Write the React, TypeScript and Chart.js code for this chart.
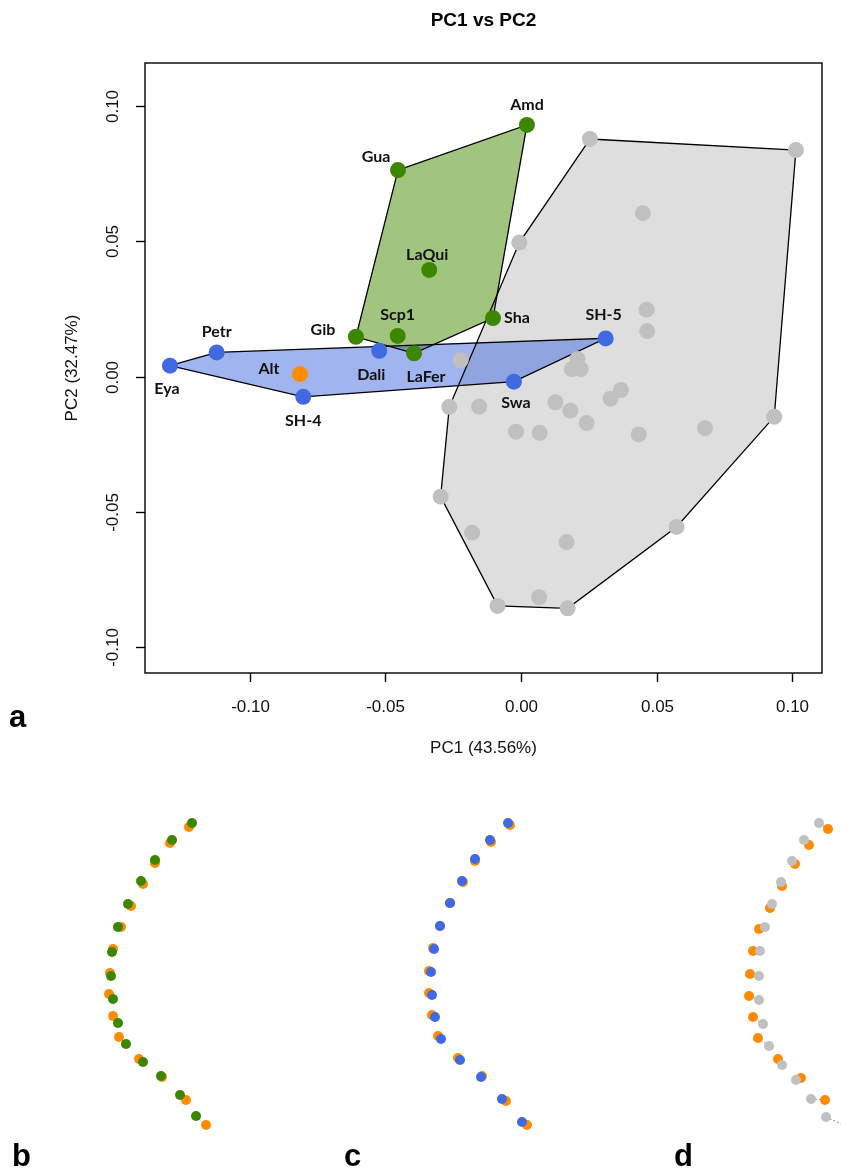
import React, { useEffect, useRef } from "react";
import { Chart, registerables } from "chart.js";
Chart.register(...registerables);

const FONT_AXIS = '"Liberation Sans", Arial, sans-serif';
const FONT_LABEL = 'Lato, "Open Sans", sans-serif';

// ---------- Panel a: PCA scores ----------
const grayX = [0.0254, 0.1013, 0.0449, -0.0006, 0.0463, 0.0465, -0.0222, 0.0208, 0.0187, 0.022, 0.0368, 0.033, -0.0264, -0.0154, 0.0127, 0.0182, 0.0933, 0.0242, -0.0018, 0.0069, 0.0434, 0.0678, -0.0296, -0.018, 0.0168, 0.0573, -0.0086, 0.0067, 0.0172];
const grayY = [0.0878, 0.0837, 0.0604, 0.0495, 0.0247, 0.0168, 0.006, 0.0065, 0.0027, 0.0027, -0.005, -0.0082, -0.0112, -0.0111, -0.0095, -0.0126, -0.0149, -0.0172, -0.0204, -0.0208, -0.0214, -0.0191, -0.0444, -0.0577, -0.0612, -0.0556, -0.0848, -0.0816, -0.0857];
const grayHull = [0, 1, 16, 25, 28, 26, 22, 12, 3];

const greenNames = ["Amd", "Gua", "LaQui", "Sha", "Gib", "Scp1", "LaFer"];
const greenX = [0.0022, -0.0453, -0.0338, -0.0103, -0.0608, -0.0454, -0.0394];
const greenY = [0.093, 0.0763, 0.0394, 0.0216, 0.0147, 0.015, 0.0086];
const greenHull = [1, 0, 3, 6, 4];
const greenLabelOffsets = [[0, -20], [-22, -13], [-2, -15], [24, 0], [-33, -7], [0, -21], [12, 24]];

const blueNames = ["Eya", "Petr", "SH-4", "Dali", "Swa", "SH-5"];
const blueX = [-0.1293, -0.1121, -0.0802, -0.0522, -0.0026, 0.0312];
const blueY = [0.004, 0.0089, -0.0075, 0.0095, -0.0019, 0.0141];
const blueHull = [0, 1, 5, 4, 2];
const blueLabelOffsets = [[-3, 23], [0, -21], [0, 24], [-8, 24], [2, 21], [-2, -24]];

const orangeNames = ["Alt"];
const orangeX = [-0.0814];
const orangeY = [0.0009];
const orangeLabelOffsets = [[-31, -5]];

const xTicks = [-0.1, -0.05, 0, 0.05, 0.1];
const xTickLabels = ["-0.10", "-0.05", "0.00", "0.05", "0.10"];
const yTicks = [-0.1, -0.05, 0, 0.05, 0.1];
const yTickLabels = ["-0.10", "-0.05", "0.00", "0.05", "0.10"];
const xRange = [-0.1385, 0.1109];
const yRange = [-0.1096, 0.1159];

const TITLE = "PC1 vs PC2";
const X_TITLE = "PC1 (43.56%)";
const Y_TITLE = "PC2 (32.47%)";

// ---------- Panels b, c, d: landmark configurations ----------
const bGreenX = [0.052, 0.032, 0.015, 0.001, -0.012, -0.022, -0.028, -0.029, -0.027, -0.022, -0.014, 0.003, 0.021, 0.04, 0.056];
const bGreenY = [0.151, 0.134, 0.114, 0.093, 0.07, 0.047, 0.022, -0.002, -0.025, -0.049, -0.07, -0.088, -0.102, -0.121, -0.142];
const bOrangeX = [0.049, 0.03, 0.015, 0.003, -0.009, -0.019, -0.027, -0.03, -0.031, -0.027, -0.021, -0.001, 0.022, 0.046, 0.066];
const bOrangeY = [0.147, 0.131, 0.111, 0.09, 0.068, 0.047, 0.025, 0.001, -0.02, -0.042, -0.063, -0.085, -0.103, -0.126, -0.151];

const cBlueX = [0.088, 0.07, 0.055, 0.042, 0.03, 0.02, 0.014, 0.011, 0.012, 0.015, 0.021, 0.04, 0.061, 0.082, 0.102];
const cBlueY = [0.151, 0.134, 0.115, 0.093, 0.071, 0.048, 0.025, 0.002, -0.021, -0.043, -0.065, -0.086, -0.103, -0.125, -0.148];
const cOrangeX = [0.09, 0.071, 0.055, 0.043, 0.03, 0.02, 0.013, 0.009, 0.009, 0.012, 0.018, 0.038, 0.062, 0.086, 0.107];
const cOrangeY = [0.149, 0.132, 0.113, 0.092, 0.071, 0.048, 0.026, 0.003, -0.019, -0.041, -0.062, -0.084, -0.102, -0.127, -0.151];

const dGrayX = [0.118, 0.103, 0.091, 0.08, 0.071, 0.064, 0.059, 0.058, 0.058, 0.062, 0.068, 0.081, 0.095, 0.11, 0.125];
const dGrayY = [0.151, 0.134, 0.113, 0.092, 0.07, 0.047, 0.023, -0.002, -0.026, -0.05, -0.072, -0.091, -0.106, -0.125, -0.143];
const dOrangeX = [0.127, 0.108, 0.094, 0.081, 0.069, 0.058, 0.052, 0.049, 0.048, 0.052, 0.057, 0.077, 0.1, 0.124, 0.147];
const dOrangeY = [0.145, 0.129, 0.11, 0.088, 0.066, 0.045, 0.023, 0.0, -0.022, -0.043, -0.064, -0.085, -0.104, -0.126, -0.153];

const panelXRange = [-0.14, 0.14];
const panelYRange = [-0.194, 0.194];

// ---------- colours ----------
const C_GRAY_PT = "#C0C0C0";
const C_GRAY_FILL = "#DEDEDE";
const C_GREEN_PT = "#3D8700";
const C_GREEN_FILL = "#A1C57F";
const C_BLUE_PT = "#4169E1";
const C_BLUE_FILL = "rgba(65,105,225,0.5)";
const C_ORANGE_PT = "#FF8C00";

const pts = (xs: number[], ys: number[]) => xs.map((x, i) => ({ x, y: ys[i] }));
const hullPts = (xs: number[], ys: number[], idx: number[]) =>
  [...idx, idx[0]].map((i) => ({ x: xs[i], y: ys[i] }));

function hullFill(data: any, color: string, order: number) {
  return {
    data, fill: "shape", backgroundColor: color, borderWidth: 0, borderColor: "rgba(0,0,0,0)",
    pointRadius: 0, showLine: true, order, tension: 0,
  };
}
function hullLine(data: any, order: number) {
  return {
    data, fill: false, borderColor: "#000", borderWidth: 1.3, pointRadius: 0, showLine: true, order, tension: 0,
  };
}
function pointSet(data: any, color: string, radius: number, order: number) {
  return {
    data, showLine: false, pointRadius: radius, pointHoverRadius: radius,
    pointBackgroundColor: color, pointBorderWidth: 0, pointBorderColor: color, order,
  };
}

function mainConfig(): any {
  const labelPlugin = {
    id: "pointLabels",
    afterDatasetsDraw(chart: any) {
      const { ctx, scales } = chart;
      ctx.save();
      ctx.font = `bold 16px ${FONT_LABEL}`;
      ctx.fillStyle = "#111";
      ctx.textAlign = "center";
      ctx.textBaseline = "middle";
      const put = (names: string[], xs: number[], ys: number[], offs: number[][]) => {
        names.forEach((n, i) => {
          const px = scales.x.getPixelForValue(xs[i]);
          const py = scales.y.getPixelForValue(ys[i]);
          ctx.fillText(n, px + offs[i][0], py + offs[i][1]);
        });
      };
      put(greenNames, greenX, greenY, greenLabelOffsets);
      put(blueNames, blueX, blueY, blueLabelOffsets);
      put(orangeNames, orangeX, orangeY, orangeLabelOffsets);
      ctx.restore();
    },
  };
  const decor = {
    id: "decor",
    afterDraw(chart: any) {
      const { ctx, chartArea: a, scales } = chart;
      ctx.save();
      ctx.strokeStyle = "#000";
      ctx.lineWidth = 1.4;
      ctx.strokeRect(a.left, a.top, a.right - a.left, a.bottom - a.top);
      ctx.fillStyle = "#111";
      ctx.font = `17px ${FONT_AXIS}`;
      ctx.textAlign = "center";
      ctx.textBaseline = "middle";
      xTicks.forEach((v, i) => {
        const px = Math.round(scales.x.getPixelForValue(v)) + 0.5;
        ctx.beginPath();
        ctx.moveTo(px, a.bottom);
        ctx.lineTo(px, a.bottom + 9);
        ctx.stroke();
        ctx.fillText(xTickLabels[i], px, a.bottom + 34);
      });
      yTicks.forEach((v, i) => {
        const py = Math.round(scales.y.getPixelForValue(v)) + 0.5;
        ctx.beginPath();
        ctx.moveTo(a.left - 9, py);
        ctx.lineTo(a.left, py);
        ctx.stroke();
        ctx.save();
        ctx.translate(a.left - 32, py);
        ctx.rotate(-Math.PI / 2);
        ctx.fillText(yTickLabels[i], 0, 0);
        ctx.restore();
      });
      const cx = (a.left + a.right) / 2;
      ctx.fillText(X_TITLE, cx, 748);
      ctx.save();
      ctx.translate(72, (a.top + a.bottom) / 2);
      ctx.rotate(-Math.PI / 2);
      ctx.fillText(Y_TITLE, 0, 0);
      ctx.restore();
      ctx.font = `bold 19px ${FONT_AXIS}`;
      ctx.fillStyle = "#000";
      ctx.fillText(TITLE, cx, 21);
      ctx.font = `bold 31px ${FONT_AXIS}`;
      ctx.textAlign = "left";
      ctx.textBaseline = "alphabetic";
      ctx.fillText("a", 9, 727);
      ctx.restore();
    },
  };
  return {
    type: "line",
    data: {
      datasets: [
        hullFill(hullPts(grayX, grayY, grayHull), C_GRAY_FILL, 10),
        hullFill(hullPts(greenX, greenY, greenHull), C_GREEN_FILL, 9),
        hullFill(hullPts(blueX, blueY, blueHull), C_BLUE_FILL, 8),
        hullLine(hullPts(grayX, grayY, grayHull), 6),
        hullLine(hullPts(greenX, greenY, greenHull), 6),
        hullLine(hullPts(blueX, blueY, blueHull), 6),
        pointSet(pts(grayX, grayY), C_GRAY_PT, 8, 4),
        pointSet(pts(greenX, greenY), C_GREEN_PT, 8, 3),
        pointSet(pts(blueX, blueY), C_BLUE_PT, 8, 3),
        pointSet(pts(orangeX, orangeY), C_ORANGE_PT, 8, 3),
      ],
    },
    options: {
      animation: false,
      responsive: false,
      devicePixelRatio: 1,
      layout: { padding: { left: 145, top: 63, right: 19, bottom: 107 }, autoPadding: false },
      plugins: { legend: { display: false }, tooltip: { enabled: false }, title: { display: false } },
      events: [],
      scales: {
        x: { type: "linear", min: xRange[0], max: xRange[1], display: false },
        y: { type: "linear", min: yRange[0], max: yRange[1], display: false },
      },
    },
    plugins: [labelPlugin, decor],
  };
}

function pairLinks(ax: number[], ay: number[], bx: number[], by: number[]) {
  const out: any[] = [];
  ax.forEach((x, i) => {
    out.push({ x, y: ay[i] });
    out.push({ x: bx[i], y: by[i] });
    out.push({ x: bx[i], y: null });
  });
  return out;
}

function panelConfig(letter: string, letterX: number, ox: number[], oy: number[], px: number[], py: number[], color: string): any {
  const letterPlugin = {
    id: "letter",
    afterDraw(chart: any) {
      const { ctx } = chart;
      ctx.save();
      ctx.font = `bold 31px ${FONT_AXIS}`;
      ctx.fillStyle = "#000";
      ctx.textAlign = "left";
      ctx.textBaseline = "alphabetic";
      ctx.fillText(letter, letterX, 386);
      ctx.restore();
    },
  };
  return {
    type: "line",
    data: {
      datasets: [
        {
          data: pairLinks(px, py, ox, oy), showLine: true, spanGaps: false, fill: false,
          borderColor: "#8a8a8a", borderWidth: 1, borderDash: [2, 2], pointRadius: 0, order: 5,
        },
        pointSet(pts(ox, oy), C_ORANGE_PT, 5, 4),
        pointSet(pts(px, py), color, 5, 3),
      ],
    },
    options: {
      animation: false,
      responsive: false,
      devicePixelRatio: 1,
      layout: { padding: 0, autoPadding: false },
      plugins: { legend: { display: false }, tooltip: { enabled: false } },
      events: [],
      scales: {
        x: { type: "linear", min: panelXRange[0], max: panelXRange[1], display: false },
        y: { type: "linear", min: panelYRange[0], max: panelYRange[1], display: false },
      },
    },
    plugins: [letterPlugin],
  };
}

function ChartBox({ make, left, top, width, height }: { make: () => any; left: number; top: number; width: number; height: number }) {
  const ref = useRef<HTMLCanvasElement | null>(null);
  useEffect(() => {
    const chart = new Chart(ref.current as HTMLCanvasElement, make());
    return () => chart.destroy();
  }, []);
  return (
    <div style={{ position: "absolute", left, top, width, height }}>
      <canvas ref={ref} width={width} height={height} style={{ width, height, display: "block" }} />
    </div>
  );
}

export default function App() {
  return (
    <div style={{ position: "absolute", left: 0, top: 0, width: 841, height: 1168, background: "#fff", overflow: "hidden" }}>
      <ChartBox make={mainConfig} left={0} top={0} width={841} height={780} />
      <ChartBox make={() => panelConfig("b", 12, bOrangeX, bOrangeY, bGreenX, bGreenY, C_GREEN_PT)} left={0} top={780} width={280} height={388} />
      <ChartBox make={() => panelConfig("c", 64, cOrangeX, cOrangeY, cBlueX, cBlueY, C_BLUE_PT)} left={280} top={780} width={280} height={388} />
      <ChartBox make={() => panelConfig("d", 113, dOrangeX, dOrangeY, dGrayX, dGrayY, C_GRAY_PT)} left={561} top={780} width={280} height={388} />
    </div>
  );
}
